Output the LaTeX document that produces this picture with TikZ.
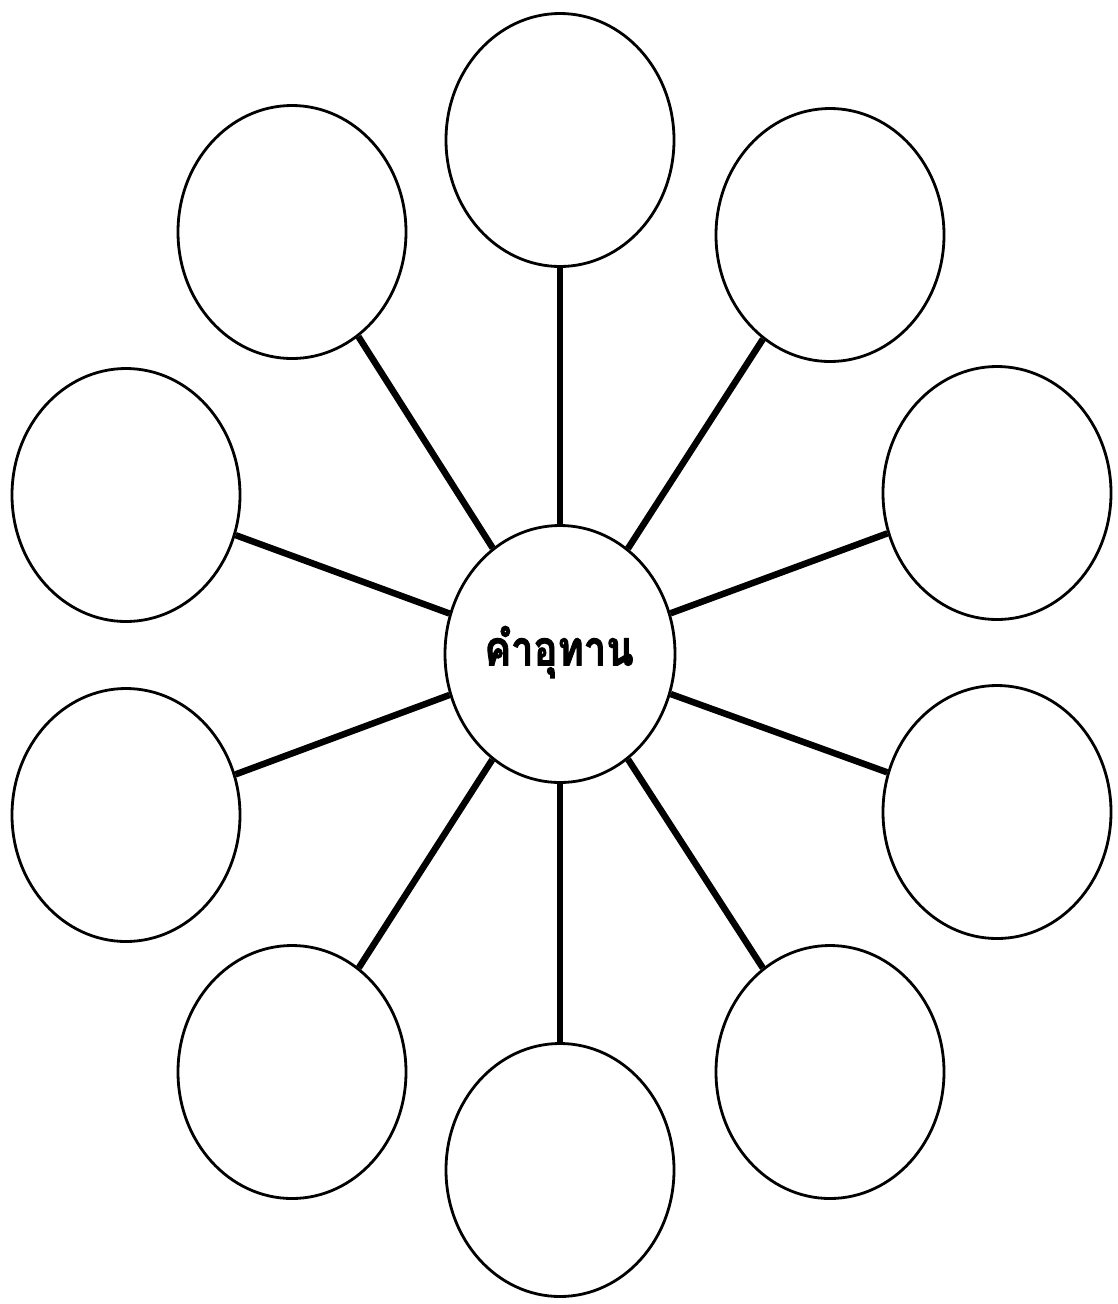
\documentclass[tikz,border=0pt]{standalone}
\usepackage{fontspec}
\newfontfamily\thaifont[Script=Thai,FakeBold=2.2]{Loma}
\usetikzlibrary{shapes.geometric}
\begin{document}
\begin{tikzpicture}[x=1pt,y=-1pt,
  bubble/.style={draw,ellipse,line width=2.8pt,minimum width=228pt,minimum height=253pt,inner sep=0pt},
  spoke/.style={line width=6.5pt}]
\useasboundingbox (0,0) rectangle (1118,1304);
\node[bubble,minimum width=230pt,minimum height=257pt] (c) at (560,654) {};
\node[font=\thaifont\bfseries\fontsize{42}{50}\selectfont,xscale=0.95,yscale=1.15,transform shape] (t) at (559,652) {คำอุทาน};
\node[bubble] (n1) at (560,140) {};
\node[bubble] (n2) at (830,235) {};
\node[bubble] (n3) at (997,493) {};
\node[bubble] (n4) at (997,812) {};
\node[bubble] (n5) at (830,1072) {};
\node[bubble] (n6) at (560,1170) {};
\node[bubble] (n7) at (292,1072) {};
\node[bubble] (n8) at (126,815) {};
\node[bubble] (n9) at (126,495) {};
\node[bubble] (n10) at (292,232) {};
\foreach \i in {1,...,10} \draw[spoke] (c) -- (n\i);
\end{tikzpicture}
\end{document}
